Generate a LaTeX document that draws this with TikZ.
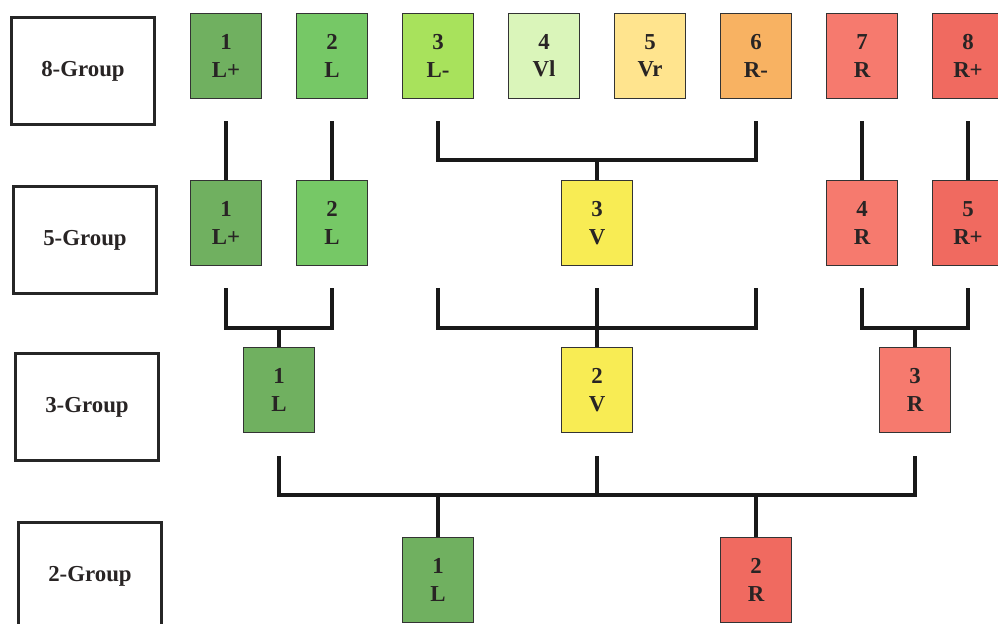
\documentclass[tikz,border=0pt]{standalone}
\usepackage{fontspec}
\setmainfont{Liberation Serif}
\usetikzlibrary{positioning}
\definecolor{CLp}{RGB}{112,176,96}
\definecolor{CL}{RGB}{118,200,102}
\definecolor{CLm}{RGB}{168,226,92}
\definecolor{CVl}{RGB}{218,245,186}
\definecolor{CVr}{RGB}{255,228,142}
\definecolor{CV}{RGB}{248,236,84}
\definecolor{CRm}{RGB}{248,178,98}
\definecolor{CR}{RGB}{246,122,110}
\definecolor{CRp}{RGB}{240,106,96}
\definecolor{CT}{RGB}{40,36,36}

\begin{document}
\begin{tikzpicture}[x=0.02cm, y=-0.02cm,
    font=\fontsize{13}{15.5}\selectfont\bfseries, text=CT,
    grp/.style={draw=black!85, line width=2pt, minimum width=2.86cm, minimum height=2.14cm},
    cell/.style={draw=black!80, line width=1pt, minimum width=1.42cm, minimum height=1.7cm, align=center},
    link/.style={draw=black!90, line width=1.8pt}]
        \useasboundingbox (0,0) rectangle (998,624);
        \clip (0,0) rectangle (998,624);
        % group labels
        \node[grp] (g8) at (83,71)  {8-Group};
        \node[grp] (g5) at (85,240) {5-Group};
        \node[grp] (g3) at (87,407) {3-Group};
        \node[grp] (g2) at (90,576) {2-Group};
        % 8 groups
        \node[cell, fill=CLp] (e1) at (226,56) {1\\L+};
        \node[cell, fill=CL]  (e2) at (332,56) {2\\L};
        \node[cell, fill=CLm] (e3) at (438,56) {3\\L-};
        \node[cell, fill=CVl] (e4) at (544,56) {4\\Vl};
        \node[cell, fill=CVr] (e5) at (650,56) {5\\Vr};
        \node[cell, fill=CRm] (e6) at (756,56) {6\\R-};
        \node[cell, fill=CR]  (e7) at (862,56) {7\\R};
        \node[cell, fill=CRp] (e8) at (968,56) {8\\R+};
        % 5 groups
        \node[cell, fill=CLp] (f1) at (226,223) {1\\L+};
        \node[cell, fill=CL]  (f2) at (332,223) {2\\L};
        \node[cell, fill=CV]  (f3) at (597,223) {3\\V};
        \node[cell, fill=CR]  (f4) at (862,223) {4\\R};
        \node[cell, fill=CRp] (f5) at (968,223) {5\\R+};
        % 3 groups
        \node[cell, fill=CLp] (t1) at (279,390) {1\\L};
        \node[cell, fill=CV]  (t2) at (597,390) {2\\V};
        \node[cell, fill=CR]  (t3) at (915,390) {3\\R};
        % 2 groups
        \node[cell, fill=CLp] (w1) at (438,580) {1\\L};
        \node[cell, fill=CRp] (w2) at (756,580) {2\\R};
        % junctions
        \coordinate (j8) at (597,160);
        \coordinate (jl5) at (279,328);
        \coordinate (jv5) at (597,328);
        \coordinate (jr5) at (915,328);
        \coordinate (vl) at (438,288);
        \coordinate (vr) at (756,288);
        \coordinate (jl3) at (438,495);
        \coordinate (jr3) at (756,495);
        % 8 -> 5
        \draw[link] ([yshift=-0.44cm]e1.south) -- (f1.north);
        \draw[link] ([yshift=-0.44cm]e2.south) -- (f2.north);
        \draw[link] ([yshift=-0.44cm]e3.south) |- (j8) -| ([yshift=-0.44cm]e6.south);
        \draw[link] (j8) -- (f3.north);
        \draw[link] ([yshift=-0.44cm]e7.south) -- (f4.north);
        \draw[link] ([yshift=-0.44cm]e8.south) -- (f5.north);
        % 5 -> 3
        \draw[link] ([yshift=-0.44cm]f1.south) |- (jl5) -| ([yshift=-0.44cm]f2.south);
        \draw[link] (jl5) -- (t1.north);
        \draw[link] (vl) |- (jv5) -| (vr);
        \draw[link] ([yshift=-0.44cm]f3.south) -- (t2.north);
        \draw[link] ([yshift=-0.44cm]f4.south) |- (jr5) -| ([yshift=-0.44cm]f5.south);
        \draw[link] (jr5) -- (t3.north);
        % 3 -> 2
        \draw[link] ([yshift=-0.46cm]t1.south) |- (jl3) -- (jr3) -| ([yshift=-0.46cm]t3.south);
        \draw[link] ([yshift=-0.46cm]t2.south) -- (t2.south |- jl3);
        \draw[link] (jl3) -- (w1.north);
        \draw[link] (jr3) -- (w2.north);
    \end{tikzpicture}
\end{document}
